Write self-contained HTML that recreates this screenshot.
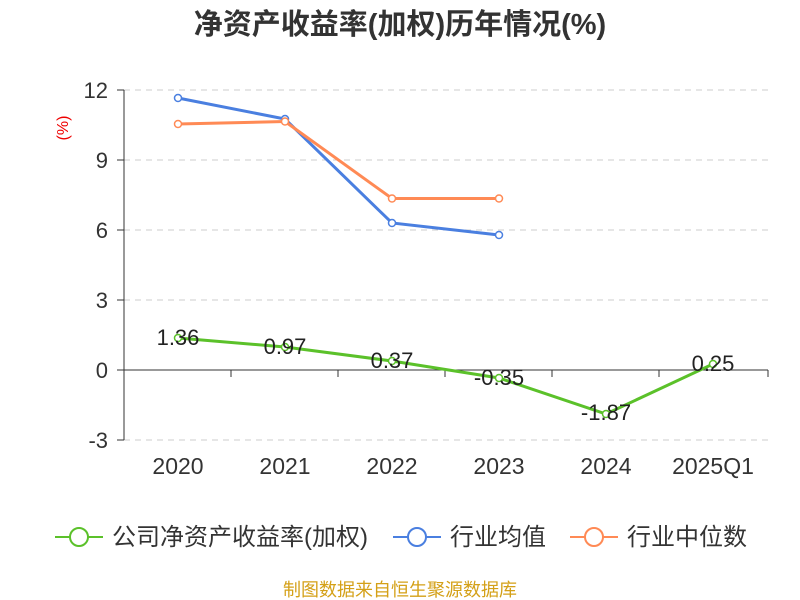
<!DOCTYPE html>
<html><head><meta charset="utf-8"><style>
body{margin:0;background:#fff;}
svg{display:block;font-family:"Liberation Sans","Noto Sans CJK SC",sans-serif;}
</style></head><body>
<svg width="800" height="600" viewBox="0 0 800 600">
<text x="400" y="34" text-anchor="middle" font-size="29" font-weight="bold" fill="#333">净资产收益率(加权)历年情况(%)</text>
<text x="68" y="128" font-size="16" fill="#e00" transform="rotate(-90 68 128)" text-anchor="middle">(%)</text>
<g stroke="#ccc" stroke-dasharray="6,5" stroke-width="1">
<line x1="124" y1="90" x2="768" y2="90"/><line x1="124" y1="160" x2="768" y2="160"/>
<line x1="124" y1="230" x2="768" y2="230"/><line x1="124" y1="300" x2="768" y2="300"/>
<line x1="124" y1="440" x2="768" y2="440"/>
</g>
<g stroke="#333" stroke-width="1">
<line x1="124" y1="90" x2="124" y2="440"/>
<line x1="117" y1="90" x2="124" y2="90"/><line x1="117" y1="160" x2="124" y2="160"/><line x1="117" y1="230" x2="124" y2="230"/><line x1="117" y1="300" x2="124" y2="300"/><line x1="117" y1="370" x2="124" y2="370"/><line x1="117" y1="440" x2="124" y2="440"/>
<line x1="124" y1="370" x2="768" y2="370"/>
<line x1="231" y1="370" x2="231" y2="377"/><line x1="338" y1="370" x2="338" y2="377"/><line x1="445" y1="370" x2="445" y2="377"/><line x1="552" y1="370" x2="552" y2="377"/><line x1="659" y1="370" x2="659" y2="377"/><line x1="768" y1="370" x2="768" y2="377"/>
</g>
<g font-size="22" fill="#333" text-anchor="end">
<text x="108" y="98">12</text><text x="108" y="168">9</text><text x="108" y="238">6</text><text x="108" y="308">3</text><text x="108" y="378">0</text><text x="108" y="448">-3</text>
</g>
<g font-size="23" fill="#333" text-anchor="middle">
<text x="178" y="474">2020</text><text x="285" y="474">2021</text><text x="392" y="474">2022</text><text x="499" y="474">2023</text><text x="606" y="474">2024</text><text x="713" y="474">2025Q1</text>
</g>
<g fill="none" stroke-width="3">
<polyline stroke="#4a7fe0" points="178,98 285,119 392,223 499,235"/>
<polyline stroke="#ff8a55" points="178,124 285,121.5 392,198.5 499,198.5"/>
<polyline stroke="#5bc12a" points="178,338 285,347 392,361 499,378 606,414 713,364"/>
</g>
<g fill="#fff" stroke-width="1.5">
<g stroke="#4a7fe0"><circle cx="178" cy="98" r="3.5"/><circle cx="285" cy="119" r="3.5"/><circle cx="392" cy="223" r="3.5"/><circle cx="499" cy="235" r="3.5"/></g>
<g stroke="#ff8a55"><circle cx="178" cy="124" r="3.5"/><circle cx="285" cy="121.5" r="3.5"/><circle cx="392" cy="198.5" r="3.5"/><circle cx="499" cy="198.5" r="3.5"/></g>
<g stroke="#5bc12a"><circle cx="178" cy="338" r="3.5"/><circle cx="285" cy="347" r="3.5"/><circle cx="392" cy="361" r="3.5"/><circle cx="499" cy="378" r="3.5"/><circle cx="606" cy="414" r="3.5"/><circle cx="713" cy="364" r="3.5"/></g>
</g>
<g font-size="22" fill="#222" text-anchor="middle">
<text x="178" y="345">1.36</text><text x="285" y="354">0.97</text><text x="392" y="368">0.37</text><text x="499" y="385">-0.35</text><text x="606" y="420">-1.87</text><text x="713" y="371">0.25</text>
</g>
<g font-size="24" fill="#333">
<line x1="55" y1="537" x2="103" y2="537" stroke="#5bc12a" stroke-width="2"/><circle cx="79" cy="537" r="9" fill="#fff" stroke="#5bc12a" stroke-width="2"/>
<text x="112" y="545">公司净资产收益率(加权)</text>
<line x1="393" y1="537" x2="441" y2="537" stroke="#4a7fe0" stroke-width="2"/><circle cx="417" cy="537" r="9" fill="#fff" stroke="#4a7fe0" stroke-width="2"/>
<text x="450" y="545">行业均值</text>
<line x1="570" y1="537" x2="618" y2="537" stroke="#ff8a55" stroke-width="2"/><circle cx="594" cy="537" r="9" fill="#fff" stroke="#ff8a55" stroke-width="2"/>
<text x="627" y="545">行业中位数</text>
</g>
<text x="400" y="596" text-anchor="middle" font-size="18" fill="#d4a017">制图数据来自恒生聚源数据库</text>
</svg>
</body></html>
